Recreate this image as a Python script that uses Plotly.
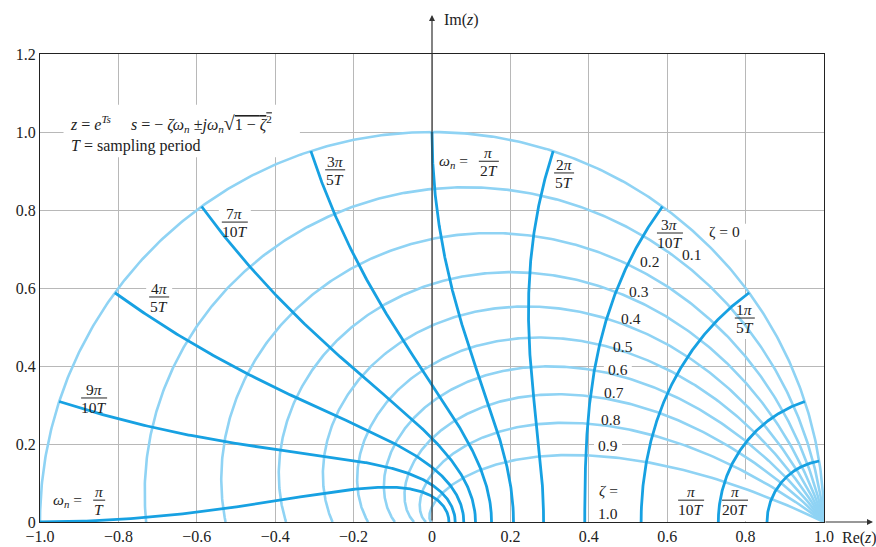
import numpy as np
import plotly.graph_objects as go

# ---------------- data ----------------
ZETA_VALUES = [0.0, 0.1, 0.2, 0.3, 0.4, 0.5, 0.6, 0.7, 0.8, 0.9]
# natural-frequency curves: omega_n * T = num * pi / den
WN_NUM = [1, 1, 1, 3, 2, 1, 3, 7, 4, 9, 1]
WN_DEN = [20, 10, 5, 10, 5, 2, 5, 10, 5, 10, 1]

X_TICKS = [-1.0, -0.8, -0.6, -0.4, -0.2, 0.0, 0.2, 0.4, 0.6, 0.8, 1.0]
X_TICK_TEXT = ["\u22121.0", "\u22120.8", "\u22120.6", "\u22120.4", "\u22120.2", "0",
               "0.2", "0.4", "0.6", "0.8", "1.0"]
Y_TICKS = [0.0, 0.2, 0.4, 0.6, 0.8, 1.0, 1.2]
Y_TICK_TEXT = ["0", "0.2", "0.4", "0.6", "0.8", "1.0", "1.2"]

ZETA_LABELS = ["\u03b6 = 0", "0.1", "0.2", "0.3", "0.4", "0.5", "0.6", "0.7", "0.8", "0.9"]
ZETA_LABEL_POS = [(0.745, 0.744), (0.661, 0.687), (0.554, 0.667), (0.528, 0.592),
                  (0.508, 0.521), (0.487, 0.449), (0.474, 0.392), (0.464, 0.333),
                  (0.457, 0.264), (0.449, 0.195)]

# fraction labels: (numerator, denominator, x, y of bar, half width px, prefix)
FRACTIONS = [
    ("<i>\u03c0</i>", "<i>T</i>", -0.849, 0.056, 6, "<i>\u03c9<sub>n</sub></i> = "),
    ("9<i>\u03c0</i>", "10<i>T</i>", -0.862, 0.318, 13, None),
    ("4<i>\u03c0</i>", "5<i>T</i>", -0.696, 0.577, 10, None),
    ("7<i>\u03c0</i>", "10<i>T</i>", -0.503, 0.769, 13, None),
    ("3<i>\u03c0</i>", "5<i>T</i>", -0.247, 0.903, 10, None),
    ("<i>\u03c0</i>", "2<i>T</i>", 0.145, 0.925, 10, "<i>\u03c9<sub>n</sub></i> = "),
    ("2<i>\u03c0</i>", "5<i>T</i>", 0.337, 0.895, 10, None),
    ("3<i>\u03c0</i>", "10<i>T</i>", 0.607, 0.741, 13, None),
    ("1<i>\u03c0</i>", "5<i>T</i>", 0.798, 0.523, 10, None),
    ("<i>\u03c0</i>", "10<i>T</i>", 0.661, 0.056, 13, None),
    ("<i>\u03c0</i>", "20<i>T</i>", 0.773, 0.056, 13, None),
]

LIGHT = "#8fd3f4"
DARK = "#17a1e2"
FONT = "Liberation Serif"
PXU = 392.0  # pixels per data unit (approx)
PYU = 390.0

fig = go.Figure()

# constant damping-ratio curves
theta = np.linspace(0, np.pi, 400)
for z in ZETA_VALUES:
    r = np.exp(-z * theta / np.sqrt(1 - z * z))
    fig.add_trace(go.Scatter(x=r * np.cos(theta), y=r * np.sin(theta), mode="lines",
                             line=dict(color=LIGHT, width=2.6), hoverinfo="skip",
                             showlegend=False))

# constant natural-frequency curves
zz = np.linspace(0, 1, 300)
for n, d in zip(WN_NUM, WN_DEN):
    w = n * np.pi / d
    r = np.exp(-zz * w)
    a = w * np.sqrt(1 - zz * zz)
    fig.add_trace(go.Scatter(x=r * np.cos(a), y=r * np.sin(a), mode="lines",
                             line=dict(color=DARK, width=2.8), hoverinfo="skip",
                             showlegend=False))

shapes = []
annotations = []


def white_box(x0, x1, y0, y1):
    shapes.append(dict(type="rect", xref="x", yref="y", x0=x0, x1=x1, y0=y0, y1=y1,
                       fillcolor="white", line=dict(width=0), layer="between"))


txt = dict(family=FONT, size=15.5, color="#222")

for (num, den, x, y, hw, prefix) in FRACTIONS:
    annotations.append(dict(x=x, y=y, xref="x", yref="y", text=num, showarrow=False,
                            yanchor="bottom", xanchor="center", font=txt, borderpad=0,
                            yshift=-1))
    annotations.append(dict(x=x, y=y, xref="x", yref="y", text=den, showarrow=False,
                            yanchor="top", xanchor="center", font=txt, borderpad=0,
                            yshift=0))
    shapes.append(dict(type="line", xref="x", yref="y", x0=x - hw / PXU, x1=x + hw / PXU,
                       y0=y, y1=y, line=dict(color="#222", width=1), layer="above"))
    white_box(x - (hw + 3) / PXU, x + (hw + 3) / PXU, y - 21 / PYU, y + 21 / PYU)
    if prefix:
        annotations.append(dict(x=x - (hw + 5) / PXU, y=y, xref="x", yref="y", text=prefix,
                                showarrow=False, xanchor="right", yanchor="middle",
                                font=txt))

for lab, (x, y) in zip(ZETA_LABELS, ZETA_LABEL_POS):
    annotations.append(dict(x=x, y=y, xref="x", yref="y", text=lab, showarrow=False,
                            xanchor="center", yanchor="middle", font=txt))
    w = 14 if len(lab) < 5 else 22
    white_box(x - w / PXU, x + w / PXU, y - 8 / PYU, y + 8 / PYU)

annotations.append(dict(x=0.449, y=0.080, xref="x", yref="y", text="<i>\u03b6</i> =",
                        showarrow=False, font=txt))
annotations.append(dict(x=0.449, y=0.023, xref="x", yref="y", text="1.0",
                        showarrow=False, font=txt))

# formula box
formula = ("<i>z</i> = <i>e</i><sup><i>Ts</i></sup>&nbsp;&nbsp;&nbsp;&nbsp;&nbsp;"
           "<i>s</i> = \u2212 <i>\u03b6\u03c9<sub>n</sub></i> \u00b1<i>j\u03c9<sub>n</sub></i>"
           "<span style='font-size:20px'>\u221a</span>"
           "<span style='text-decoration:overline'>1 \u2212 <i>\u03b6</i><sup>2</sup></span>"
           "<br><i>T</i> = sampling period")
annotations.append(dict(x=-0.929, y=0.997, xref="x", yref="y", text=formula,
                        showarrow=False, xanchor="left", yanchor="middle", align="left",
                        font=dict(family=FONT, size=16, color="#222")))
white_box(-0.94, -0.337, 0.935, 1.07)

# axes arrows
annotations.append(dict(x=0, y=1.0833, xref="x", yref="paper", text="", showarrow=True,
                        ax=0, ay=507, arrowhead=2, arrowsize=1,
                        arrowwidth=1.2, arrowcolor="#333", standoff=0))
annotations.append(dict(x=1.0625, y=0, xref="paper", yref="y", text="", showarrow=True,
                        ax=-49, ay=0, arrowhead=2, arrowsize=1, arrowwidth=1.2,
                        arrowcolor="#333", standoff=0))
annotations.append(dict(x=0.025, y=1.072, xref="x", yref="paper", text="Im(<i>z</i>)",
                        showarrow=False, xanchor="left", yanchor="middle",
                        font=dict(family=FONT, size=16, color="#222")))
annotations.append(dict(x=1.02, y=-0.034, xref="paper", yref="paper",
                        text="Re(<i>z</i>)", showarrow=False, xanchor="left",
                        yanchor="middle", font=dict(family=FONT, size=16, color="#222")))

fig.update_layout(
    width=876, height=547, autosize=False,
    margin=dict(l=40, r=52, t=54, b=25, autoexpand=False),
    plot_bgcolor="white", paper_bgcolor="white",
    shapes=shapes, annotations=annotations,
    xaxis=dict(range=[-1, 1], tickvals=X_TICKS, ticktext=X_TICK_TEXT, showgrid=True,
               gridcolor="#b8b8b8", gridwidth=1, zeroline=False, showline=True,
               linecolor="#222", linewidth=1.2, mirror=True, ticks="", automargin=False,
               tickfont=dict(family=FONT, size=16, color="#222")),
    yaxis=dict(range=[0, 1.2], tickvals=Y_TICKS, ticktext=Y_TICK_TEXT, showgrid=True,
               gridcolor="#b8b8b8", gridwidth=1, zeroline=False, showline=True,
               linecolor="#222", linewidth=1.2, mirror=True, ticks="", automargin=False,
               tickfont=dict(family=FONT, size=16, color="#222")),
)

fig.write_html("out.html", config={"displayModeBar": False},
               post_script="document.body.style.margin='0px';document.body.style.overflow='hidden';")
